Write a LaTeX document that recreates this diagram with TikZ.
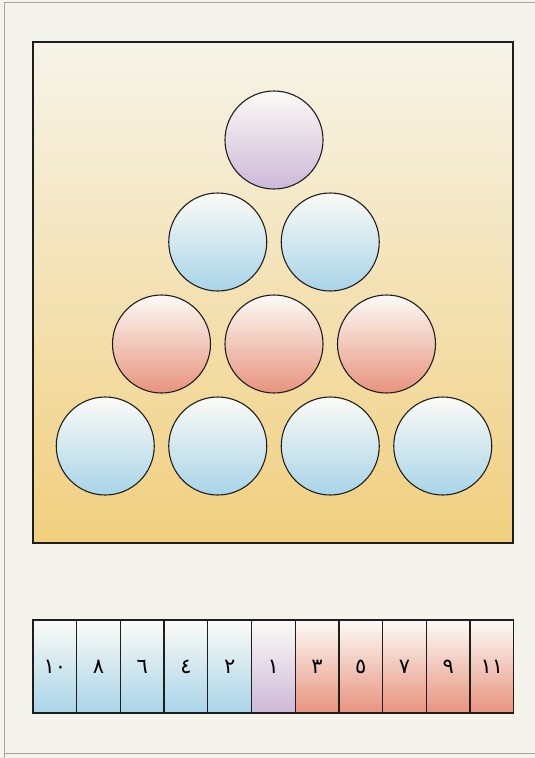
\documentclass[tikz,border=0pt]{standalone}
\usepackage{fontspec}
\usetikzlibrary{positioning}
\newfontfamily\arabicfont[Script=Arabic]{DejaVu Sans}
\definecolor{paper}{HTML}{F4F3EC}
\definecolor{edge}{HTML}{A4A4A0}
\definecolor{cream}{HTML}{F6F4E9}
\definecolor{sand}{HTML}{F1CF7E}
\definecolor{sky}{HTML}{A8D4E8}
\definecolor{coral}{HTML}{E8937E}
\definecolor{lilac}{HTML}{CDB8D8}
\definecolor{ink}{HTML}{1E1E1E}
\tikzset{ball/.style={circle,draw=ink,line width=1.1pt,minimum size=98pt,inner sep=0pt,
  top color=white!60!cream,middle color=#1!35!white,bottom color=#1},
cell/.style={draw=ink,line width=1.3pt,minimum width=43.7pt,minimum height=93pt,inner sep=0pt,
  top color=white!60!cream,middle color=#1!45!white,bottom color=#1,
  font=\arabicfont\fontsize{21}{21}\selectfont},
tray/.style={draw=ink,line width=1.5pt}}

\begin{document}
\begin{tikzpicture}[x=1pt,y=-1pt]
\useasboundingbox (0,0) rectangle (535,758);
\fill[paper] (0,0) rectangle (535,758);
% scan edge
\draw[edge] (4,758) -- (4,2) -- (535,2);
\draw[edge] (4,753) -- (535,753);
% board with the pyramid
\draw[tray,top color=cream,middle color=cream!55!sand,bottom color=sand] (33,42) rectangle (513,543);
\foreach \row/\col in {1/lilac,2/sky,3/coral,4/sky}
  \foreach \k in {1,...,\row}
    \node[ball=\col] (b\row\k) at ({274+(\k-(\row+1)/2)*112.5},{38+102*\row}) {};
% strip of numbers
\foreach \lab/\col [count=\i] in {١٠/sky,٨/sky,٦/sky,٤/sky,٢/sky,١/lilac,٣/coral,٥/coral,٧/coral,٩/coral,١١/coral}
  \node[cell=\col] (c\i) at ({33+43.7*(\i-0.5)},666.5) {\lab};
\end{tikzpicture}
\end{document}
